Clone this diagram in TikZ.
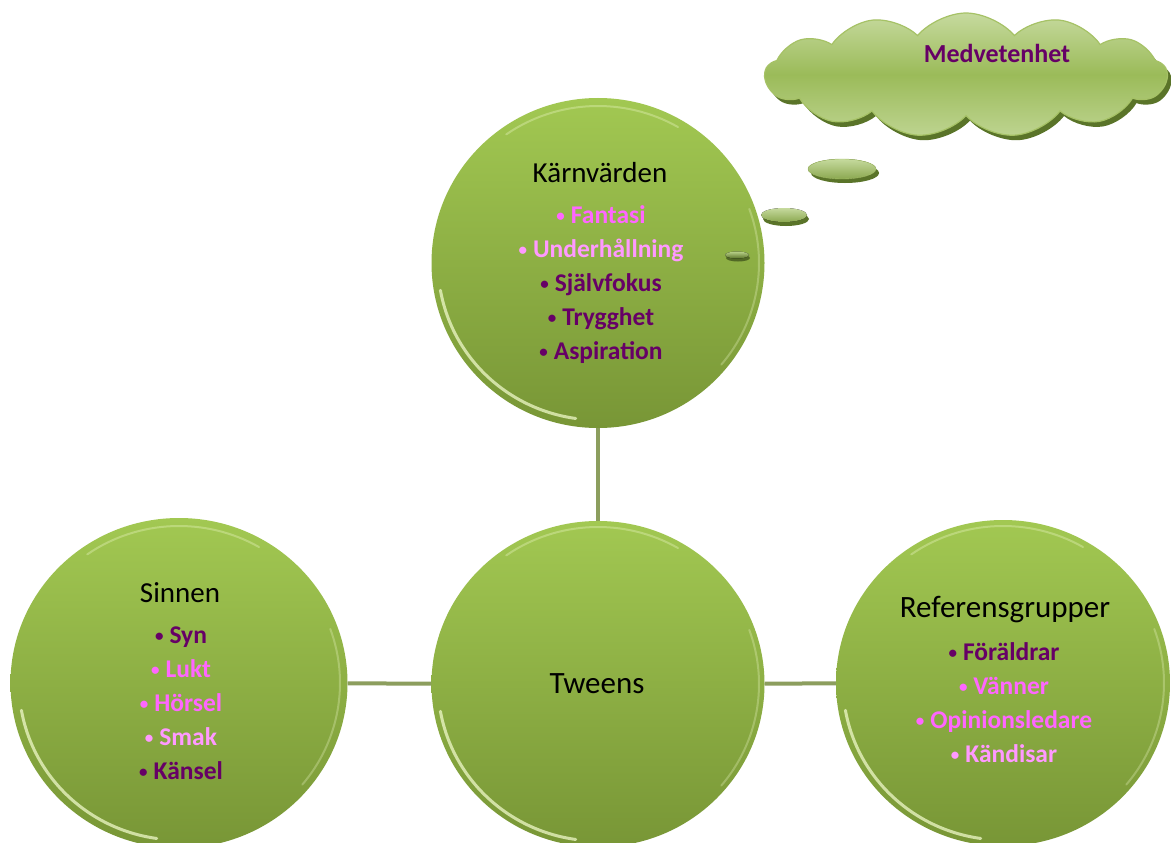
\documentclass[tikz,border=0pt]{standalone}
\usepackage{fontspec}
\setmainfont{Carlito}
\usetikzlibrary{shapes.symbols,shapes.geometric,shadows}
\definecolor{gtop}{HTML}{A2C852}
\definecolor{gbot}{HTML}{789636}
\definecolor{rimc}{HTML}{EEF8C8}
\definecolor{linkc}{HTML}{8C9E5E}
\definecolor{ctop}{HTML}{C6DA9E}
\definecolor{cmid}{HTML}{9BBB59}
\definecolor{cline}{HTML}{A6C266}
\definecolor{shadowg}{HTML}{5A7429}
\definecolor{purp}{HTML}{660066}
\definecolor{pinkA}{HTML}{FF66FF}
\definecolor{pinkB}{HTML}{FF99FF}
\newcommand\headsz{\fontsize{29}{34}\selectfont}
\newcommand\itemsz{\fontsize{25.5}{34}\selectfont}
\newcommand\bul{\raisebox{1.5pt}{\fontsize{17}{17}\selectfont •}\hspace{6pt}}
\tikzset{
  ball/.style={ellipse, draw=none, inner sep=0pt, top color=gtop, bottom color=gbot},
  rim/.style={draw=rimc, line width=3pt, opacity=0.75, line cap=round},
  link/.style={draw=linkc, line width=4pt},
  head/.style={anchor=base, inner sep=0pt, font=\headsz, text=black},
  entry/.style={anchor=base, inner sep=0pt, font=\itemsz\bfseries},
  puff/.style={top color=ctop, bottom color=ctop!80!cmid, middle color=cmid, draw=cline, line width=1.2pt},
  puffshadow/.style={fill=shadowg, draw=none}
}
\begin{document}
\begin{tikzpicture}[x=1pt,y=-1pt]
\useasboundingbox (0,0) rectangle (1171,843);
\fill[white] (0,0) rectangle (1171,843);

% circles
\node[ball, minimum width=333pt, minimum height=330pt] (core) at (598,263) {};
\node[ball, minimum width=333pt, minimum height=326pt] (tweens) at (598,684) {};
\node[ball, minimum width=337pt, minimum height=330pt] (senses) at (179,683) {};
\node[ball, minimum width=334pt, minimum height=326pt] (refs) at (1003,683) {};

% connectors
\draw[link] (core) -- (tweens);
\draw[link] (senses) -- (tweens);
\draw[link] (tweens) -- (refs);

% rim highlights
\foreach \c in {core,tweens,senses,refs}{
  \draw[rim] (\c.center) ++(190:160pt and 157pt) arc[start angle=190, end angle=262, x radius=160pt, y radius=157pt];
  \draw[rim, opacity=0.35, line width=2pt] (\c.center) ++(60:160pt and 157pt) arc[start angle=60, end angle=125, x radius=160pt, y radius=157pt];
  \draw[rim, opacity=0.3, line width=2pt] (\c.center) ++(-40:161pt and 158pt) arc[start angle=-40, end angle=20, x radius=161pt, y radius=158pt];
}

% thought bubbles
\fill[shadowg] (845,173) ellipse [x radius=34, y radius=10];
\fill[top color=ctop, bottom color=cmid!90!black, draw=cline] (842,169) ellipse [x radius=34, y radius=10];
\fill[shadowg] (786,219) ellipse [x radius=23, y radius=7];
\fill[top color=ctop, bottom color=cmid!90!black] (784,215) ellipse [x radius=23, y radius=7];
\fill[shadowg!90!black] (738,258) ellipse [x radius=12, y radius=3.5];
\fill[top color=ctop!70!cmid, bottom color=shadowg] (737,255) ellipse [x radius=12, y radius=3.5];

% cloud
\node[cloud, cloud puffs=13, cloud puff arc=100, aspect=3.4, minimum width=402pt, minimum height=124pt, inner sep=0pt, puffshadow] (cloudshadow) at (970,80) {};
\node[cloud, cloud puffs=13, cloud puff arc=100, aspect=3.4, minimum width=402pt, minimum height=124pt, inner sep=0pt, puff] (aware) at (966,75) {};
\node[anchor=base, inner sep=0pt, font=\fontsize{26}{30}\selectfont\bfseries, text=purp] (awaretext) at (997,63) {Medvetenhet};

% texts: core values
\node[head] (h1) at (600,182) {Kärnvärden};
\node[entry, text=pinkA] (c1) at (601,223) {\bul Fantasi};
\node[entry, text=pinkB] (c2) at (601,257) {\bul Underhållning};
\node[entry, text=purp] (c3) at (601,291) {\bul Självfokus};
\node[entry, text=purp] (c4) at (601,325) {\bul Trygghet};
\node[entry, text=purp] (c5) at (601,359) {\bul Aspiration};

% tweens
\node[anchor=base, inner sep=0pt, font=\fontsize{31}{36}\selectfont] (tw) at (597,693) {Tweens};

% senses
\node[head] (h2) at (180,602) {Sinnen};
\node[entry, text=purp] (s1) at (181,643) {\bul Syn};
\node[entry, text=pinkA] (s2) at (181,677) {\bul Lukt};
\node[entry, text=pinkA] (s3) at (181,711) {\bul Hörsel};
\node[entry, text=pinkB] (s4) at (181,745) {\bul Smak};
\node[entry, text=purp] (s5) at (181,779) {\bul Känsel};

% reference groups
\node[head, font=\fontsize{31}{36}\selectfont] (h3) at (1005,617) {Referensgrupper};
\node[entry, text=purp] (r1) at (1004,660) {\bul Föräldrar};
\node[entry, text=pinkA] (r2) at (1004,694) {\bul Vänner};
\node[entry, text=pinkA] (r3) at (1004,728) {\bul Opinionsledare};
\node[entry, text=pinkB] (r4) at (1004,762) {\bul Kändisar};
\end{tikzpicture}
\end{document}
